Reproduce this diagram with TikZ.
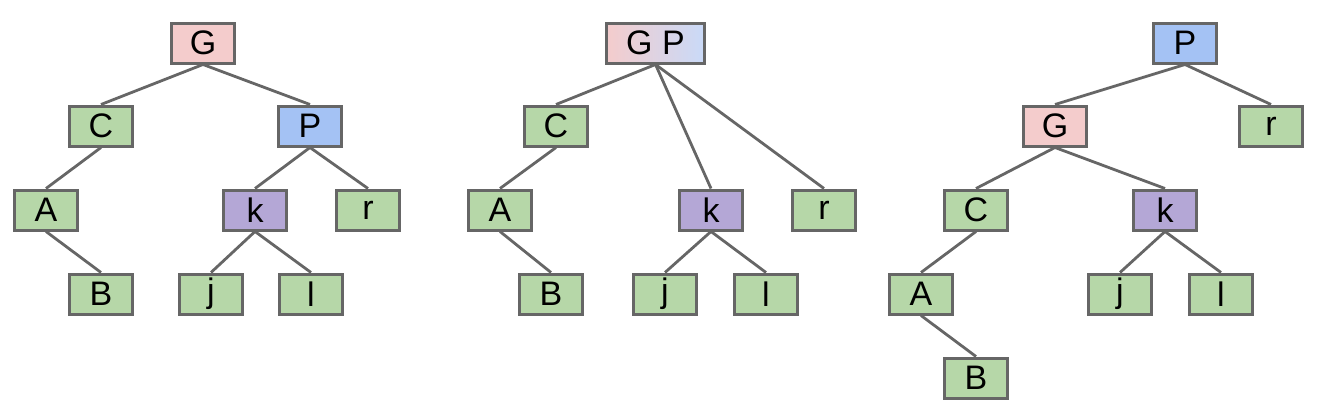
\documentclass[tikz,border=0pt]{standalone}
\usepackage{fontspec}
\setmainfont{Liberation Sans}
\usepackage{xcolor}
\usetikzlibrary{positioning}
\definecolor{rosebox}{HTML}{F4CCCC}
\definecolor{bluebox}{HTML}{A4C2F4}
\definecolor{lightblue}{HTML}{C9DAF8}
\definecolor{greenbox}{HTML}{B6D7A8}
\definecolor{violetbox}{HTML}{B4A7D6}
\definecolor{edgegray}{HTML}{666666}
\tikzset{
  % Common styles for the trees
  key/.style={draw=edgegray, line width=3pt, rectangle, minimum width=63pt, minimum height=40pt, inner sep=0pt, fill=#1, font=\fontsize{34}{38}\selectfont},
  key/.default=greenbox,
  link/.style={draw=edgegray, line width=2.8pt}
}

\begin{document}
\begin{tikzpicture}[x=1pt, y=-1pt]
    \useasboundingbox (0,0) rectangle (1326,415);

    % Left tree
    \node [key=rosebox] (g1) at (203,43) {G};
    \node [key] (c1) at (101,126) {C};
    \node [key=bluebox] (p1) at (310,126) {P};
    \node [key] (a1) at (46,210) {A};
    \node [key=violetbox] (k1) at (255,210) {k};
    \node [key] (r1) at (368,210) {r};
    \node [key] (b1) at (101,294) {B};
    \node [key] (j1) at (211,294) {j};
    \node [key] (l1) at (311,294) {l};

    \path [link] (g1.south) -- (c1.north);
    \path [link] (g1.south) -- (p1.north);
    \path [link] (c1.south) -- (a1.north);
    \path [link] (a1.south) -- (b1.north);
    \path [link] (p1.south) -- (k1.north);
    \path [link] (p1.south) -- (r1.north);
    \path [link] (k1.south) -- (j1.north);
    \path [link] (k1.south) -- (l1.north);

    % Middle tree
    \node [key, minimum width=98pt, left color=rosebox, right color=lightblue] (gp2) at (655.5,43) {G P};
    \node [key] (c2) at (556,126) {C};
    \node [key] (a2) at (500,210) {A};
    \node [key] (b2) at (551,294) {B};
    \node [key=violetbox] (k2) at (711,210) {k};
    \node [key] (r2) at (824,210) {r};
    \node [key] (j2) at (665,294) {j};
    \node [key] (l2) at (766,294) {l};

    \path [link] (gp2.south) -- (c2.north);
    \path [link] (gp2.south) -- (k2.north);
    \path [link] (gp2.south) -- (r2.north);
    \path [link] (c2.south) -- (a2.north);
    \path [link] (a2.south) -- (b2.north);
    \path [link] (k2.south) -- (j2.north);
    \path [link] (k2.south) -- (l2.north);

    % Right tree
    \node [key=bluebox] (p3) at (1185,43) {P};
    \node [key=rosebox] (g3) at (1055,126) {G};
    \node [key] (r3) at (1271,126) {r};
    \node [key] (c3) at (976,210) {C};
    \node [key=violetbox] (k3) at (1165,210) {k};
    \node [key] (a3) at (921,294) {A};
    \node [key] (j3) at (1120,294) {j};
    \node [key] (l3) at (1221,294) {l};
    \node [key] (b3) at (976,378) {B};

    \path [link] (p3.south) -- (g3.north);
    \path [link] (p3.south) -- (r3.north);
    \path [link] (g3.south) -- (c3.north);
    \path [link] (g3.south) -- (k3.north);
    \path [link] (c3.south) -- (a3.north);
    \path [link] (a3.south) -- (b3.north);
    \path [link] (k3.south) -- (j3.north);
    \path [link] (k3.south) -- (l3.north);
\end{tikzpicture}
\end{document}
